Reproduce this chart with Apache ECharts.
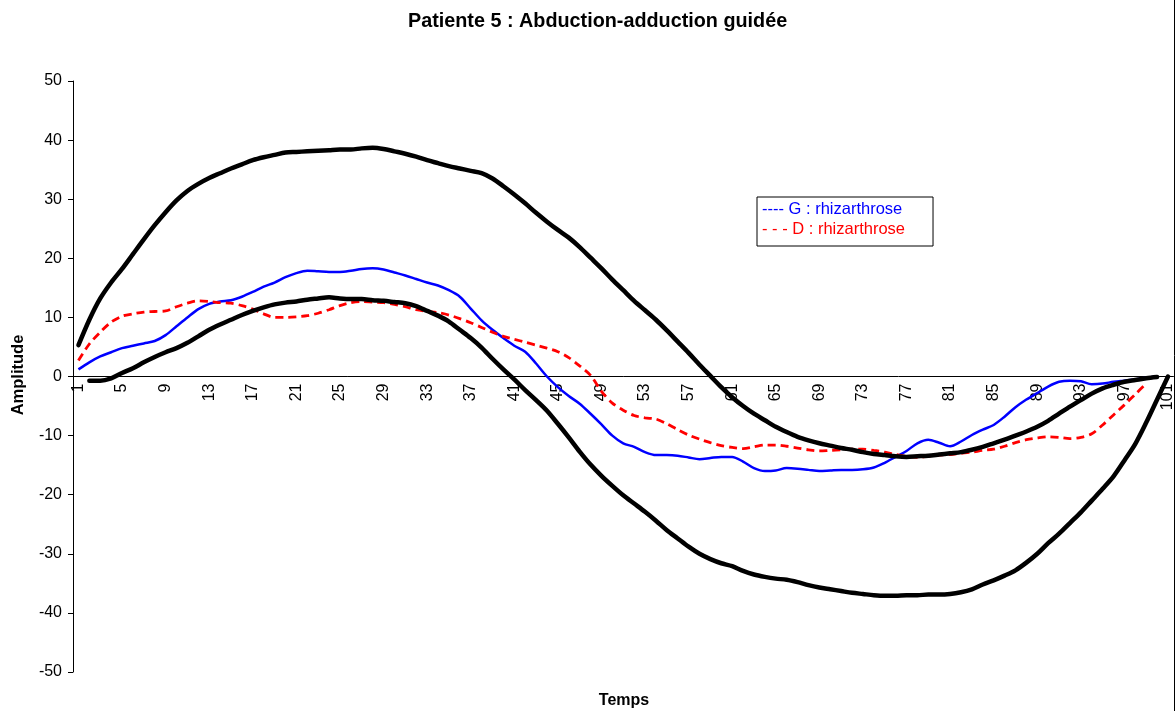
<!DOCTYPE html>
<html>
<head>
<meta charset="utf-8">
<script src="https://cdn.jsdelivr.net/npm/echarts@6/dist/echarts.min.js"></script>
<style>html,body{margin:0;padding:0;background:#fff}#c{width:1176px;height:711px}</style>
</head>
<body>
<div id="c"></div>
<script>
var categories = [];
for (var i = 1; i <= 101; i++) categories.push(String(i));

var upperEnvelope = [5.3,9.6,13.2,15.9,18.2,20.7,23.2,25.6,27.8,29.8,31.4,32.6,33.6,34.4,35.2,35.9,36.6,37.1,37.5,37.9,
38.0,38.1,38.2,38.3,38.4,38.4,38.6,38.7,38.5,38.1,37.7,37.2,36.6,36.1,35.6,35.2,34.8,34.4,33.5,32.2,
30.8,29.3,27.7,26.2,24.8,23.5,21.9,20.1,18.3,16.4,14.6,12.8,11.2,9.6,7.8,5.9,4.0,2.0,0.1,-1.8,
-3.5,-5.0,-6.3,-7.4,-8.5,-9.4,-10.2,-10.8,-11.3,-11.7,-12.1,-12.4,-12.8,-13.1,-13.3,-13.5,-13.6,-13.5,-13.4,-13.2,
-13.0,-12.8,-12.4,-11.9,-11.3,-10.7,-10.0,-9.3,-8.5,-7.5,-6.3,-5.1,-4.0,-2.9,-2.0,-1.4,-0.9,-0.6,-0.3,-0.1,null];

var lowerEnvelope = [null,-0.7,-0.7,-0.3,0.6,1.4,2.4,3.3,4.1,4.8,5.7,6.8,7.9,8.8,9.6,10.4,11.1,11.7,12.2,12.5,
12.7,13.0,13.2,13.4,13.2,13.1,13.1,12.9,12.8,12.6,12.4,11.9,11.1,10.3,9.3,7.9,6.5,4.9,3.0,1.2,
-0.5,-2.3,-4.0,-5.8,-8.0,-10.3,-12.7,-14.9,-16.8,-18.5,-20.1,-21.5,-22.9,-24.4,-26.0,-27.4,-28.8,-30.0,-30.9,-31.6,
-32.1,-32.9,-33.5,-33.9,-34.2,-34.4,-34.8,-35.3,-35.7,-36.0,-36.3,-36.6,-36.8,-37.0,-37.1,-37.1,-37.0,-37.0,-36.9,-36.9,
-36.8,-36.5,-36.0,-35.2,-34.5,-33.7,-32.8,-31.5,-30.0,-28.2,-26.6,-24.8,-23.0,-21.0,-19.0,-16.9,-14.2,-11.4,-7.8,-3.9,0.0];

var seriesG = [1.2,2.4,3.4,4.1,4.8,5.2,5.6,6.0,7.0,8.5,10.0,11.4,12.3,12.7,12.9,13.5,14.3,15.2,15.9,16.8,
17.5,17.9,17.8,17.7,17.7,17.9,18.2,18.3,18.1,17.6,17.1,16.5,15.9,15.4,14.6,13.5,11.5,9.5,7.9,6.5,
5.2,4.2,2.2,0.0,-1.8,-3.3,-4.6,-6.3,-8.1,-10.0,-11.3,-11.9,-12.8,-13.3,-13.3,-13.4,-13.7,-14.0,-13.8,-13.6,
-13.6,-14.4,-15.5,-16.0,-15.9,-15.5,-15.6,-15.8,-16.0,-15.9,-15.8,-15.8,-15.7,-15.4,-14.6,-13.6,-12.6,-11.3,-10.7,-11.2,
-11.8,-11.0,-9.9,-9.0,-8.2,-6.8,-5.2,-3.9,-2.8,-1.7,-0.9,-0.7,-0.8,-1.3,-1.2,-0.9,-0.7,-0.5,-0.2,0.0,null];

var seriesD = [2.7,5.5,7.5,9.2,10.2,10.6,10.9,11.0,11.1,11.8,12.4,12.8,12.7,12.5,12.4,12.0,11.4,10.6,10.0,10.0,
10.1,10.3,10.7,11.3,12.0,12.5,12.7,12.6,12.5,12.2,11.8,11.3,11.0,10.8,10.4,9.8,9.1,8.3,7.5,6.8,
6.3,5.8,5.3,4.8,4.2,3.2,1.8,0.2,-2.5,-4.5,-5.7,-6.6,-7.0,-7.2,-8.0,-9.0,-9.9,-10.6,-11.2,-11.7,
-12.0,-12.2,-11.9,-11.6,-11.6,-11.8,-12.1,-12.4,-12.6,-12.5,-12.4,-12.3,-12.3,-12.5,-12.8,-13.2,-13.5,-13.7,-13.5,-13.3,
-13.2,-13.0,-12.8,-12.5,-12.3,-11.8,-11.2,-10.7,-10.4,-10.2,-10.3,-10.5,-10.3,-9.7,-8.2,-6.5,-4.8,-3.0,-1.2,null,null];

var titleText = 'Patiente 5 : Abduction-adduction guidée';
var yName = 'Amplitude';
var xName = 'Temps';
var nameG = 'G : rhizarthrose';
var nameD = 'D : rhizarthrose';

var gridTop = 81, gridBottom = 39, H = 711, yMin = -50, yMax = 50;
var plotH = H - gridTop - gridBottom;
var zeroOffset = -plotH * (0 - yMin) / (yMax - yMin);

var chart = echarts.init(document.getElementById('c'), null, {renderer: 'canvas'});
var font = '"Liberation Sans", Arial, sans-serif';
chart.setOption({
  animation: false,
  backgroundColor: '#fff',
  title: {
    text: titleText, left: 403, top: 7,
    textStyle: {fontFamily: font, fontSize: 19.8, fontWeight: 'bold', color: '#000'}
  },
  legend: {
    left: 757, top: 197, orient: 'vertical',
    icon: 'none', itemWidth: 0, itemHeight: 12, itemGap: 3,
    padding: [4, 28, 8, 0],
    borderColor: '#000', borderWidth: 1,
    data: [
      {name: nameG, textStyle: {color: '#0000ff'}},
      {name: nameD, textStyle: {color: '#ff0000'}}
    ],
    formatter: function (n) { return (n === nameG ? '---- ' : '- - - ') + n; },
    textStyle: {fontFamily: font, fontSize: 16.5}
  },
  grid: {left: 73, right: 2, top: gridTop, bottom: gridBottom, containLabel: false},
  xAxis: {
    type: 'category', data: categories, boundaryGap: true,
    offset: zeroOffset,
    axisLine: {onZero: false, lineStyle: {color: '#000', width: 1}},
    axisTick: {interval: 1, length: 5, lineStyle: {color: '#000'}},
    axisLabel: {interval: 3, rotate: 90, fontFamily: font, fontSize: 16, color: '#000', margin: 7},
    splitLine: {show: false}
  },
  yAxis: {
    type: 'value', min: yMin, max: yMax, interval: 10,
    axisLine: {show: true, lineStyle: {color: '#000', width: 1}},
    axisTick: {show: true, length: 5, lineStyle: {color: '#000'}},
    axisLabel: {fontFamily: font, fontSize: 16, color: '#000', margin: 11},
    splitLine: {show: false}
  },
  graphic: [
    {type: 'text', x: 18, y: 375, rotation: Math.PI / 2,
     style: {text: yName, font: 'bold 16.5px ' + font, fill: '#000', textAlign: 'center', textVerticalAlign: 'middle'}},
    {type: 'text', x: 624, y: 701,
     style: {text: xName, font: 'bold 16px ' + font, fill: '#000', textAlign: 'center', textVerticalAlign: 'middle'}},
    {type: 'line', shape: {x1: 1174.5, y1: 0, x2: 1174.5, y2: 711}, style: {stroke: '#000', lineWidth: 1}}
  ],
  series: [
    {name: 'upper', type: 'line', data: upperEnvelope, showSymbol: false, smooth: 0.3,
     lineStyle: {color: '#000', width: 4.5, cap: 'round', join: 'round'}, itemStyle: {color: '#000'}, z: 3},
    {name: 'lower', type: 'line', data: lowerEnvelope, showSymbol: false, smooth: 0.3,
     lineStyle: {color: '#000', width: 4.5, cap: 'round', join: 'round'}, itemStyle: {color: '#000'}, z: 3},
    {name: nameG, type: 'line', data: seriesG, showSymbol: false, smooth: 0.3,
     lineStyle: {color: '#0000ff', width: 2.5}, itemStyle: {color: '#0000ff'}, z: 2},
    {name: nameD, type: 'line', data: seriesD, showSymbol: false, smooth: 0.3,
     lineStyle: {color: '#ff0000', width: 2.8, type: [8, 5]}, itemStyle: {color: '#ff0000'}, z: 2}
  ]
});
</script>
</body>
</html>
